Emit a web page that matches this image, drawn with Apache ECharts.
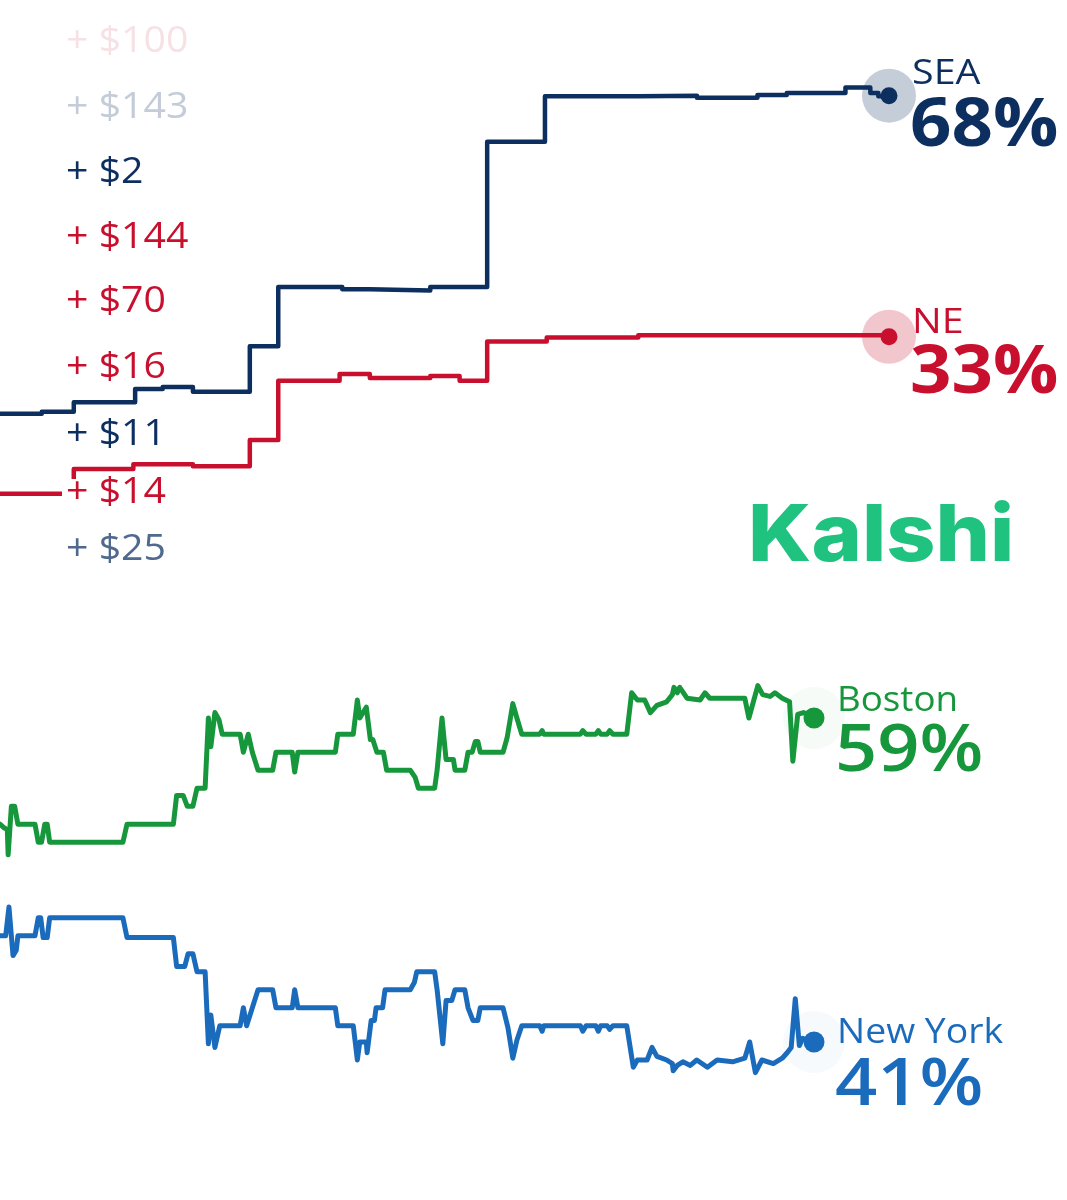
<!DOCTYPE html>
<html><head><meta charset="utf-8">
<script src="https://cdn.jsdelivr.net/npm/echarts@6/dist/echarts.min.js"></script>
<style>html,body{margin:0;padding:0;background:#fff}#c{width:1067px;height:1200px}</style>
</head><body><div id="c"></div>
<script>
// ---- data: x = share of elapsed period (0-100), y = win probability (%) ----
const seaOdds = [[0,21.8],[4.7,22.1],[8.3,23.5],[15.2,25.4],[18.3,25.7],[21.7,25.0],[28.1,31.6],[31.3,40.2],[38.5,39.9],[41.6,39.7],[48.4,40.2],[54.8,61.3],[61.3,67.9],[71.8,68.0],[78.4,67.7],[85.2,68.1],[88.5,68.4],[95.1,69.2],[97.9,68.4],[98.8,67.9],[100,68]];
const neOdds = [[0,10.2],[8.3,13.8],[15.0,14.5],[21.7,14.2],[28.1,18.0],[31.3,26.6],[38.2,27.6],[41.6,27.0],[48.4,27.3],[51.7,26.6],[54.8,32.3],[61.5,32.9],[71.8,33.2],[100,33]];
const bostonOdds = [[0,53.1],[0.5,52.9],[0.9,52.8],[1.0,51.4],[1.4,54.1],[1.8,54.1],[2.2,53.1],[4.3,53.1],[4.7,52.1],[5.1,52.1],[5.5,53.1],[5.8,53.1],[6.1,52.1],[15.1,52.1],[15.6,53.1],[21.3,53.1],[21.7,54.7],[22.5,54.7],[23.0,54.1],[23.7,54.1],[24.2,55.1],[25.2,55.1],[25.6,59.0],[25.9,57.4],[26.4,59.3],[26.9,58.9],[27.3,58.1],[29.5,58.1],[29.9,57.1],[30.5,58.1],[31.0,57.1],[31.7,56.1],[33.5,56.1],[33.9,57.1],[35.9,57.1],[36.2,56.0],[36.6,57.1],[41.2,57.1],[41.5,58.1],[43.4,58.1],[43.9,60.0],[44.2,59.0],[45.0,59.6],[45.5,57.8],[45.8,57.8],[46.3,57.1],[47.1,57.1],[47.5,56.1],[50.4,56.1],[51.0,55.7],[51.4,55.1],[53.4,55.1],[53.7,56.1],[54.3,59.0],[54.8,56.7],[55.7,56.7],[55.9,56.1],[57.1,56.1],[57.5,57.1],[58.0,57.1],[58.4,57.7],[58.7,57.7],[59.0,57.1],[61.8,57.1],[62.3,57.9],[63.0,59.8],[63.5,59.0],[64.1,58.1],[66.3,58.1],[66.6,58.3],[66.8,58.1],[71.3,58.1],[71.6,58.3],[72.0,58.1],[73.2,58.1],[73.5,58.3],[73.8,58.1],[74.6,58.1],[74.9,58.3],[75.3,58.1],[77.0,58.1],[77.6,60.4],[78.3,60.0],[79.2,60.0],[79.9,59.3],[80.7,59.7],[81.9,59.9],[82.6,60.3],[82.8,60.7],[83.2,60.4],[83.5,60.7],[84.4,60.1],[86.0,60.0],[86.6,60.4],[87.2,60.1],[91.5,60.1],[92.0,59.0],[93.1,60.8],[93.7,60.3],[94.6,60.2],[95.2,60.4],[96.1,60.1],[97.0,59.9],[97.4,56.6],[98.0,59.2],[98.7,59.3],[100,59]];
const newYorkOdds = [[0,46.9],[0.7,46.9],[1.1,48.5],[1.6,45.8],[2.0,46.1],[2.2,46.9],[4.3,46.9],[4.7,47.9],[5.0,47.9],[5.3,46.8],[5.8,46.8],[6.1,47.9],[15.1,47.9],[15.6,46.8],[21.3,46.8],[21.7,45.2],[22.7,45.2],[23.1,45.9],[23.7,45.9],[24.2,44.9],[25.2,44.9],[25.6,40.9],[25.9,42.5],[26.4,40.7],[27.0,41.9],[29.5,41.9],[29.9,42.9],[30.3,41.9],[31.0,42.9],[31.7,43.9],[33.5,43.9],[33.9,42.9],[35.9,42.9],[36.2,43.9],[36.6,42.9],[41.2,42.9],[41.5,41.9],[43.4,41.9],[43.9,40.0],[44.2,41.0],[45.0,41.0],[45.1,40.4],[45.6,42.2],[46.0,42.2],[46.2,42.9],[47.0,42.9],[47.3,43.9],[50.4,43.9],[50.9,44.3],[51.2,44.9],[53.4,44.9],[53.7,43.9],[54.4,40.9],[54.8,43.3],[55.5,43.3],[55.9,43.9],[57.1,43.9],[57.5,42.9],[58.1,42.2],[58.7,42.2],[59.0,42.9],[61.8,42.9],[62.4,41.8],[63.0,40.1],[63.5,41.1],[64.1,41.9],[66.3,41.9],[66.6,41.6],[66.8,41.9],[71.3,41.9],[71.6,41.6],[72.0,41.9],[73.2,41.9],[73.5,41.6],[73.8,41.9],[74.6,41.9],[74.9,41.7],[75.3,41.9],[77.0,41.9],[77.8,39.6],[78.3,40.0],[79.5,40.0],[80.1,40.7],[80.7,40.2],[81.9,40.0],[82.6,39.8],[82.7,39.4],[83.2,39.7],[83.9,39.9],[84.8,39.7],[85.6,40.0],[86.9,39.6],[88.1,40.0],[90.0,39.9],[91.5,40.1],[92.1,41.0],[92.8,39.3],[93.6,40.0],[95.0,39.8],[96.1,40.1],[96.7,40.4],[97.2,40.7],[97.7,43.4],[98.2,40.8],[98.6,41.2],[100,41]];
const tickerBets = ['+ $100','+ $143','+ $2','+ $144','+ $70','+ $16','+ $11','+ $14','+ $25'];
const tickerColors = ['#f6e2e5','#c3ccd8','#0d2f5f','#c8102e','#c8102e','#c8102e','#0d2f5f','#c8102e','#50698e'];
const brandText = 'Kalshi';

// ---- layout / style ----
const NAVY = '#0d2f5f', RED = '#c8102e', GREEN = '#17973c', BLUE = '#1b6bbd';
const tickerY = [42,108,173,238,302,368,435,493,550];
const FONT = '"Open Sans", "Noto Sans", sans-serif';

const chart = echarts.init(document.getElementById('c'), null, {renderer:'canvas'});
const last = a => a[a.length-1];
function line(data, color, idx, width, step) {
  return {type:'line', xAxisIndex:idx, yAxisIndex:idx, data, step, showSymbol:false, symbol:'none',
    clip:false, silent:true, z:3, lineStyle:{color, width, cap:'round', join:'round'}};
}
function dot(data, color, size, z) {
  return {type:'scatter', xAxisIndex:data.idx, yAxisIndex:data.idx, data:[last(data.arr)], symbolSize:size,
    silent:true, z, itemStyle:{color, opacity:1}};
}
chart.setOption({
  animation:false,
  backgroundColor:'#fff',
  grid:[{left:0, top:13, width:889, height:551},{left:0, top:664, width:814, height:432}],
  xAxis:[{type:'value', gridIndex:0, min:0, max:100, show:false},{type:'value', gridIndex:1, min:0, max:100, show:false}],
  yAxis:[{type:'value', gridIndex:0, min:0, max:80, show:false},{type:'value', gridIndex:1, min:38, max:62, show:false}],
  series:[
    dot({idx:0, arr:seaOdds}, 'rgba(13,47,95,0.24)', 54, 1),
    dot({idx:0, arr:neOdds}, 'rgba(200,16,46,0.24)', 54, 1),
    dot({idx:1, arr:bostonOdds}, 'rgba(23,151,60,0.035)', 62, 1),
    dot({idx:1, arr:newYorkOdds}, 'rgba(27,107,189,0.035)', 62, 1),
    line(seaOdds, NAVY, 0, 4.5, 'end'),
    line(neOdds, RED, 0, 4.5, 'end'),
    line(bostonOdds, GREEN, 1, 5, false),
    line(newYorkOdds, BLUE, 1, 5, false),
    dot({idx:0, arr:seaOdds}, NAVY, 17, 5),
    dot({idx:0, arr:neOdds}, RED, 17, 5),
    dot({idx:1, arr:bostonOdds}, GREEN, 21, 5),
    dot({idx:1, arr:newYorkOdds}, BLUE, 21, 5)
  ]
});

const ends = [
  {name:'SEA', arr:seaOdds, idx:0, color:NAVY, nameDy:-21, pctDy:32, pctWeight:700, nameScale:1.16, pctScale:1.1},
  {name:'NE', arr:neOdds, idx:0, color:RED, nameDy:-13, pctDy:37, pctWeight:700, nameScale:1.16, pctScale:1.1},
  {name:'Boston', arr:bostonOdds, idx:1, color:GREEN, nameDy:-17, pctDy:34, pctWeight:600, nameScale:1.08, pctScale:1.12},
  {name:'New York', arr:newYorkOdds, idx:1, color:BLUE, nameDy:-9, pctDy:44, pctWeight:600, nameScale:1.1, pctScale:1.12}
];
const g = [];
ends.forEach(e => {
  const p = chart.convertToPixel({gridIndex:e.idx}, last(e.arr));
  g.push({type:'text', x:p[0]+23, y:p[1]+e.nameDy, scaleX:e.nameScale, z:100, silent:true,
    style:{text:e.name, fill:e.color, font:`400 34px ${FONT}`, textAlign:'left', textVerticalAlign:'middle', align:'left', verticalAlign:'middle'}});
  g.push({type:'text', x:p[0]+21, y:p[1]+e.pctDy, scaleX:e.pctScale, z:100, silent:true,
    style:{text:Math.round(last(e.arr)[1])+'%', fill:e.color, font:`${e.pctWeight} 66px ${FONT}`, textAlign:'left', textVerticalAlign:'middle', align:'left', verticalAlign:'middle'}});
});
tickerBets.forEach((t, i) => {
  g.push({type:'rect', z:99, silent:true, shape:{x:62, y:tickerY[i]-14, width:22*t.length, height:28}, style:{fill:'#fff'}});
  g.push({type:'text', x:66, y:tickerY[i], scaleX:1.09, z:100, silent:true,
    style:{text:t, fill:tickerColors[i], font:`400 36px ${FONT}`, textAlign:'left', textVerticalAlign:'middle', align:'left', verticalAlign:'middle'}});
});
g.push({type:'text', x:748, y:537, scaleX:1.13, scaleY:1.04, z:100, silent:true,
  style:{text:brandText, fill:'#1fc27f', font:'800 76px Inter, sans-serif', textAlign:'left', textVerticalAlign:'middle', align:'left', verticalAlign:'middle'}});
chart.setOption({graphic:{elements:g}});
</script></body></html>
